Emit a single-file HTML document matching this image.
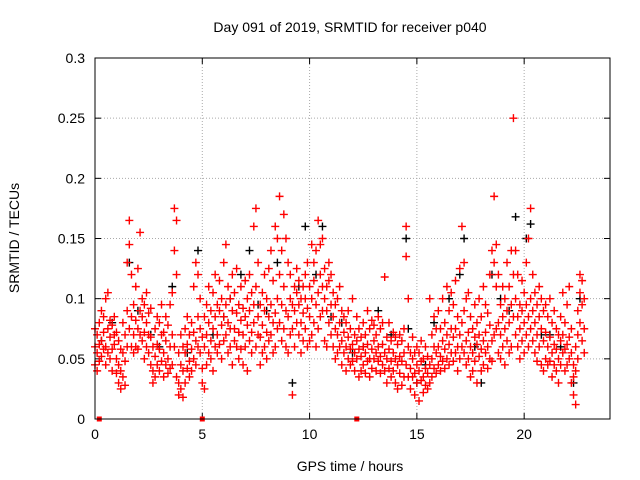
<!DOCTYPE html>
<html><head><meta charset="utf-8"><style>
html,body{margin:0;padding:0;background:#fff;}
svg{display:block;font-family:"Liberation Sans",sans-serif;}
</style></head><body>
<svg id="chart" width="640" height="480" viewBox="0 0 640 480">
<text x="350" y="32" text-anchor="middle" font-size="14">Day 091 of 2019, SRMTID for receiver p040</text>
<text x="350" y="471" text-anchor="middle" font-size="14">GPS time / hours</text>
<text transform="translate(19,238) rotate(-90)" text-anchor="middle" font-size="14">SRMTID / TECUs</text>
<g id="grid"></g><g id="ticks"></g><g id="black"></g><g id="red"></g>
<rect x="95" y="58" width="515" height="361" fill="none" stroke="#000" stroke-width="1"/>
</svg>
<script>
const xTicks=[0,5,10,15,20];
const yTicks=[0,0.05,0.1,0.15,0.2,0.25,0.3];
const yTickLabels=["0","0.05","0.1","0.15","0.2","0.25","0.3"];
const redTimes=[];for(let i=0;i<=228;i++)redTimes.push(+(i*0.1).toFixed(1));
const redMilli=[
60,45,75,55,70,40,80,62,48,65,90,52,72,58,85,60,100,45,75,55,105,68,82,50,58,78,40,85,62,70,
50,72,38,45,30,65,40,25,58,55,35,80,48,28,70,60,90,130,165,145,75,120,85,60,70,95,55,82,110,60,
75,125,58,90,70,155,65,85,100,72,50,95,80,60,105,55,88,70,45,68,92,40,60,30,52,75,35,62,45,85,
58,80,40,70,48,95,55,35,72,65,85,45,50,78,38,60,95,42,45,70,105,175,140,60,165,120,35,30,55,20,
25,45,70,40,18,60,55,30,75,62,42,85,48,70,35,58,80,40,72,50,110,65,130,45,120,60,85,55,75,100,
42,68,30,60,85,25,70,45,95,80,55,110,65,90,50,75,105,40,85,60,120,70,95,55,90,62,115,78,100,50,
85,65,130,95,70,145,80,110,55,100,75,60,90,120,45,75,105,65,88,60,125,95,72,50,82,110,58,70,92,45,
85,60,115,78,100,40,90,65,120,72,105,55,80,95,160,175,110,60,85,70,130,68,95,45,78,55,105,90,60,120,
72,100,50,85,65,125,95,70,140,80,115,55,88,60,160,100,75,150,185,120,80,95,140,65,110,170,75,90,150,60,
85,130,55,100,70,120,75,95,20,90,60,110,105,80,125,95,70,115,80,100,55,88,65,110,100,75,120,92,130,60,
85,110,65,100,145,70,115,80,130,95,140,60,105,165,75,120,85,145,110,90,150,100,125,65,90,110,60,115,80,130,
95,70,120,85,60,105,75,95,50,70,55,100,80,60,110,65,90,45,72,55,85,60,80,40,68,50,90,58,75,45,
62,48,100,55,70,40,65,50,85,58,75,35,52,68,40,60,45,80,55,70,38,62,48,90,50,75,35,58,42,82,
65,50,78,55,40,70,60,48,85,52,38,75,62,45,80,55,118,40,50,68,30,58,42,80,48,65,35,55,40,72,
50,30,68,45,62,25,52,38,70,48,28,65,55,75,35,160,135,45,100,60,35,42,55,25,50,35,68,38,55,20,
45,30,60,40,55,15,48,32,65,35,50,22,42,60,28,38,52,25,45,100,30,50,70,35,42,60,85,55,38,75,
60,45,90,52,75,40,65,48,100,58,80,42,70,50,110,62,90,45,55,75,105,68,48,95,75,55,115,60,85,40,
70,50,125,80,60,160,130,90,55,65,100,45,72,50,105,60,85,35,55,75,40,68,48,95,62,80,30,70,52,100,
58,85,40,65,45,110,72,55,95,60,88,42,78,50,120,65,140,48,185,130,70,110,75,145,80,55,120,70,95,50,
85,60,110,75,100,45,90,65,130,80,110,55,95,140,60,250,85,120,100,70,140,85,120,60,75,95,50,90,65,115,
80,105,55,95,70,130,85,150,60,100,175,75,90,120,65,80,105,55,70,95,48,85,60,110,75,100,45,65,90,40,
72,50,95,60,85,45,68,48,100,55,80,35,62,45,90,58,75,40,50,70,30,65,45,85,70,55,105,58,80,40,
62,45,95,68,50,110,55,75,30,45,35,20,60,12,40,70,50,90,105,80,120,95,65,115,75,55,100];
const blackTimes=[0.3,0.8,1.6,2.0,2.6,3.0,3.6,4.3,4.8,5.5,6.0,6.3,6.8,7.2,7.6,8.0,8.5,9.2,9.5,9.8,10.3,10.6,11.0,11.5,12.0,12.5,13.2,13.8,14.5,14.6,15.0,15.4,15.8,16.5,17.0,17.2,17.7,18.0,18.5,18.9,19.3,19.6,20.1,20.3,20.8,21.2,21.7,22.3,22.6];
const blackMilli=[65,80,130,90,70,60,110,55,140,70,85,100,120,140,95,90,130,30,110,160,120,160,85,80,55,60,90,70,150,75,30,45,80,100,120,150,60,30,120,100,90,168,150,162,70,70,60,30,100];
const redAxisMarks=[0.2,5.0,12.2];
const X0=95,X1=610,Y0=419,Y1=58;
const xs=t=>X0+(t/24)*(X1-X0);
const ys=v=>Y0-(v/0.3)*(Y0-Y1);
const NS="http://www.w3.org/2000/svg";
function mk(tag,attrs,parent){const e=document.createElementNS(NS,tag);for(const k in attrs)e.setAttribute(k,attrs[k]);document.getElementById(parent).appendChild(e);return e;}
xTicks.forEach(t=>{const x=xs(t);
 if(t>0){const g=mk('line',{x1:x,x2:x,y1:Y1,y2:Y0,stroke:'#aaa','stroke-dasharray':'1,2'},'grid');
 
 }
 const a=mk('line',{x1:x,x2:x,y1:Y0,y2:Y0-6,stroke:'#000'},'ticks');
 
 
 const b=mk('line',{x1:x,x2:x,y1:Y1,y2:Y1+6,stroke:'#000'},'ticks');
 
 
 const l=mk('text',{x:x,y:Y0+20,'text-anchor':'middle','font-size':'14'},'ticks');l.textContent=String(t);
 
 
});
yTicks.forEach((v,i)=>{const y=ys(v);
 if(v>0&&v<0.3){const g=mk('line',{x1:X0,x2:X1,y1:y,y2:y,stroke:'#aaa','stroke-dasharray':'1,2'},'grid');
 
 }
 const a=mk('line',{x1:X0,x2:X0+6,y1:y,y2:y,stroke:'#000'},'ticks');
 
 
 const b=mk('line',{x1:X1,x2:X1-6,y1:y,y2:y,stroke:'#000'},'ticks');
 
 
 const l=mk('text',{x:X0-10,y:y+5,'text-anchor':'end','font-size':'14'},'ticks');l.textContent=yTickLabels[i];
 
 
});
function plus(x,y,col,parent){const p=mk('path',{d:`M${x-4},${y}h8M${x},${y-4}v8`,stroke:col,'stroke-width':1.4,fill:'none'},parent);return p;}
blackTimes.forEach((t,i)=>{const p=plus(xs(t),ys(blackMilli[i]/1000),'#000','black');
 
 });
redTimes.forEach((t,i)=>{for(let k=0;k<3;k++){const v=redMilli[i*3+k];if(v===undefined)continue;
 const p=plus(xs(t),ys(v/1000),'#f00','red');
 
 }});
redAxisMarks.forEach(t=>{const r=mk('rect',{x:xs(t)-2.5,y:Y0-2.5,width:5,height:5,fill:'#f00'},'red');
 
 });
</script>
</body></html>
